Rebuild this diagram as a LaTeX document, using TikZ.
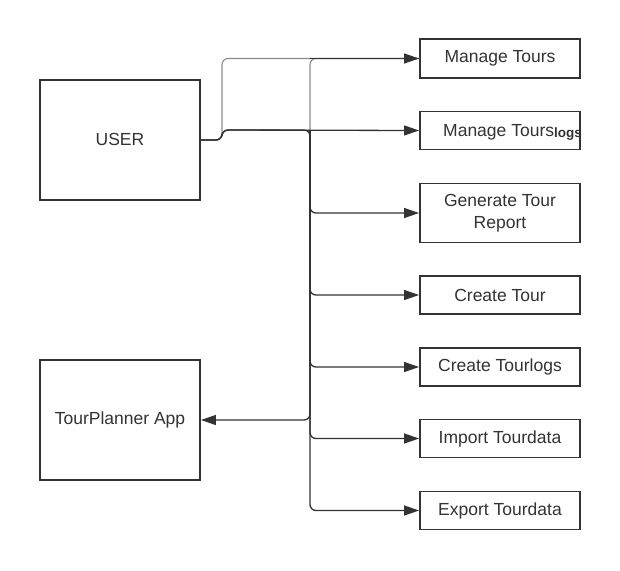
\documentclass[tikz,border=0pt]{standalone}
\usepackage{fontspec}
\setmainfont{Liberation Sans}
\usetikzlibrary{arrows.meta}
\definecolor{ink}{HTML}{333333}
\definecolor{lightink}{HTML}{8A8A8A}
\tikzset{
  box/.style={draw=ink, line width=1.9pt, fill=white, text=ink, inner sep=0pt, align=center, font=\fontsize{17.5}{22}\selectfont},
  conn/.style={draw=ink, line width=1.3pt, rounded corners=6pt, -{Triangle[length=15pt,width=10pt]}},
  faint/.style={draw=lightink, line width=1.1pt, rounded corners=6pt},
}
\begin{document}
\begin{tikzpicture}[x=1pt,y=-1pt]
\useasboundingbox (0,0) rectangle (620,570);
\node[box, minimum width=160pt, minimum height=120pt] (user) at (120,140) {\raisebox{1.5pt}{USER}};
\node[box, minimum width=160pt, minimum height=120pt] (app) at (120,420) {\raisebox{1.5pt}{TourPlanner App}};
\node[box, minimum width=160pt, minimum height=39pt] (t1) at (500,58.5) {Manage Tours};
\node[box, minimum width=160pt, minimum height=38pt] (t2) at (500,130.5) {};
\node[text=ink, anchor=base west, inner sep=0pt, font=\fontsize{17.5}{22}\selectfont] (t2lbl) at (443,136) {Manage Tours\raisebox{-1pt}{\fontsize{13.5}{15}\selectfont\bfseries logs}};
\node[box, minimum width=160pt, minimum height=59pt] (t3) at (500,213) {Generate Tour\\Report};
\node[box, minimum width=160pt, minimum height=38pt] (t4) at (500,295) {Create Tour};
\node[box, minimum width=160pt, minimum height=38pt] (t5) at (500,367) {Create Tourlogs};
\node[box, minimum width=160pt, minimum height=38pt] (t6) at (500,438.5) {Import Tourdata};
\node[box, minimum width=160pt, minimum height=38pt] (t7) at (500,510.5) {Export Tourdata};
\coordinate (u1) at (222,140);
\coordinate (u2) at (222,130);
\coordinate (b0) at (310,130);
% user to first box (upper route)
\draw[faint] (user.east) -- (u1) |- (t1.west);
\draw[faint] (b0) |- (t1.west);
\draw[conn] (310,58.5) -- (t1.west);
% user to second box
\draw[conn] (user.east) -- (u1) -- (u2) -- (t2.west);
% bus to remaining boxes
\draw[conn] (user.east) -- (u1) -- (u2) -- (b0) |- (t3.west);
\draw[conn] (b0) |- (t4.west);
\draw[conn] (b0) |- (t5.west);
\draw[conn] (b0) |- (t6.west);
\draw[conn] (b0) |- (t7.west);
\draw[conn] (b0) |- (app.east);
\end{tikzpicture}
\end{document}
